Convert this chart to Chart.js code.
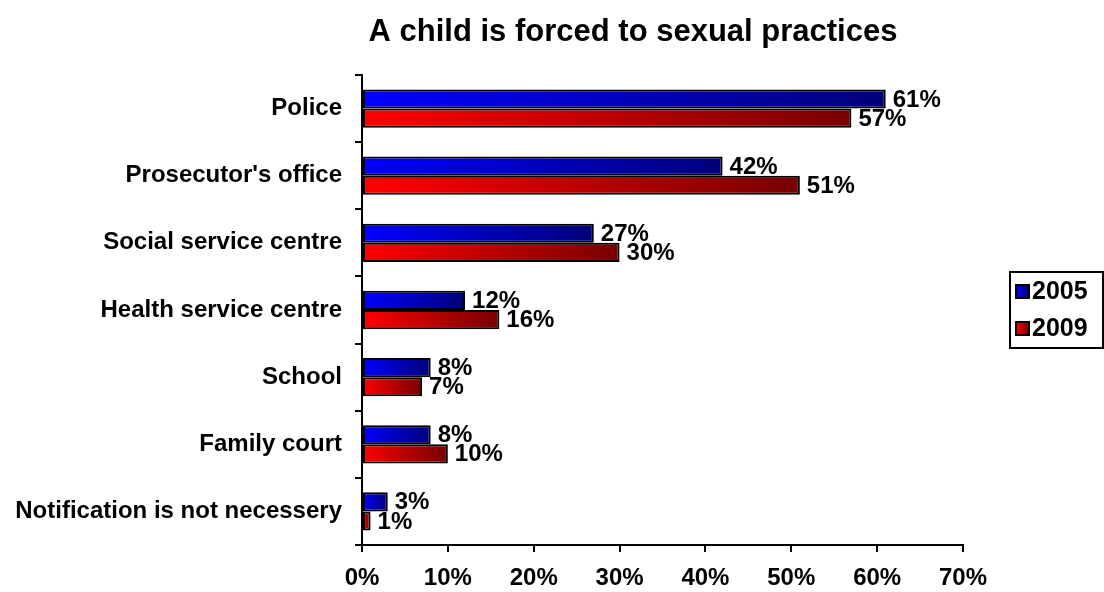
<!DOCTYPE html>
<html>
<head>
<meta charset="utf-8">
<script src="https://cdn.jsdelivr.net/npm/chart.js@4/dist/chart.umd.min.js"></script>
<style>
html,body{margin:0;padding:0;background:#fff;}
#wrap{width:1104px;height:592px;position:relative;}
</style>
</head>
<body>
<div id="wrap"><canvas id="c" width="1104" height="592"></canvas></div>
<script>
const titleText = "A child is forced to sexual practices";
const categories = ["Police","Prosecutor's office","Social service centre","Health service centre","School","Family court","Notification is not necessery"];
const seriesNames = ["2005","2009"];
const values2005 = [61,42,27,12,8,8,3];
const values2009 = [57,51,30,16,7,10,1];
const xTicks = [0,10,20,30,40,50,60,70];

const FONT = "'Liberation Sans', Arial, sans-serif";
const gradStops = [["#0000ff","#00007a"],["#ff0000","#780000"]];

function barGradient(ctx, idx){
  const chart = ctx.chart;
  const stops = gradStops[idx];
  const xs = chart.scales && chart.scales.x;
  if(!xs || ctx.raw === undefined) return stops[0];
  const x0 = xs.getPixelForValue(0);
  const x1 = xs.getPixelForValue(ctx.raw);
  if(!isFinite(x0) || !isFinite(x1) || x1 <= x0) return stops[0];
  const g = chart.ctx.createLinearGradient(x0,0,x1,0);
  g.addColorStop(0, stops[0]);
  g.addColorStop(1, stops[1]);
  return g;
}

const customDraw = {
  id:'customDraw',
  afterDatasetsDraw(chart){
    const c = chart.ctx;
    c.save();
    // value labels
    c.font = "bold 24px " + FONT;
    c.fillStyle = "#000";
    c.textBaseline = "middle";
    c.textAlign = "left";
    chart.data.datasets.forEach((ds, di)=>{
      const meta = chart.getDatasetMeta(di);
      meta.data.forEach((bar, i)=>{
        c.fillText(ds.data[i] + "%", bar.x + 7, bar.y + 1);
      });
    });
    // title
    c.font = "bold 31px " + FONT;
    c.textAlign = "center";
    c.textBaseline = "alphabetic";
    c.fillText(titleText, 633, 41);
    // legend
    const lx = 1010, ly = 272, lw = 93, lh = 76;
    c.lineWidth = 2;
    c.strokeStyle = "#000";
    c.strokeRect(lx, ly, lw, lh);
    c.font = "bold 25px " + FONT;
    c.textBaseline = "middle";
    c.textAlign = "left";
    chart.data.datasets.forEach((ds, di)=>{
      const cy = ly + 19 + di*37;
      const g = c.createLinearGradient(lx+6,0,lx+19,0);
      g.addColorStop(0, gradStops[di][0]);
      g.addColorStop(1, gradStops[di][1]);
      c.fillStyle = g;
      c.fillRect(lx+6, cy-6, 13, 13);
      c.lineWidth = 2;
      c.strokeRect(lx+6, cy-6, 13, 13);
      c.fillStyle = "#000";
      c.fillText(ds.label, lx+22, cy+1);
    });
    c.restore();
  }
};

new Chart(document.getElementById('c'), {
  type:'bar',
  data:{
    labels: categories,
    datasets:[
      {label: seriesNames[0], data: values2005, backgroundColor:(ctx)=>barGradient(ctx,0), borderColor:"#000", borderWidth:2, borderSkipped:false},
      {label: seriesNames[1], data: values2009, backgroundColor:(ctx)=>barGradient(ctx,1), borderColor:"#000", borderWidth:2, borderSkipped:false}
    ]
  },
  options:{
    indexAxis:'y',
    responsive:false,
    animation:false,
    devicePixelRatio:1,
    layout:{padding:{top:75, right:141, left:0, bottom:0}},
    datasets:{bar:{categoryPercentage:0.57, barPercentage:1.0}},
    plugins:{legend:{display:false}, title:{display:false}, tooltip:{enabled:false}},
    scales:{
      x:{
        min:0, max:70,
        afterBuildTicks(scale){ scale.ticks = xTicks.map(v=>({value:v})); },
        ticks:{callback:(v)=>v+"%", font:{family:FONT, size:24, weight:'bold'}, color:"#000", padding:12, maxRotation:0},
        grid:{drawOnChartArea:false, drawTicks:true, tickLength:7, color:"#000", lineWidth:2},
        border:{display:true, color:"#000", width:2},
        afterFit(scale){ scale.height = 47; }
      },
      y:{
        ticks:{font:{family:FONT, size:24, weight:'bold'}, color:"#000", padding:13},
        grid:{drawOnChartArea:false, drawTicks:true, tickLength:7, color:"#000", lineWidth:2, offset:true},
        border:{display:true, color:"#000", width:2},
        afterFit(scale){ scale.width = 362; }
      }
    }
  },
  plugins:[customDraw]
});
</script>
</body>
</html>
